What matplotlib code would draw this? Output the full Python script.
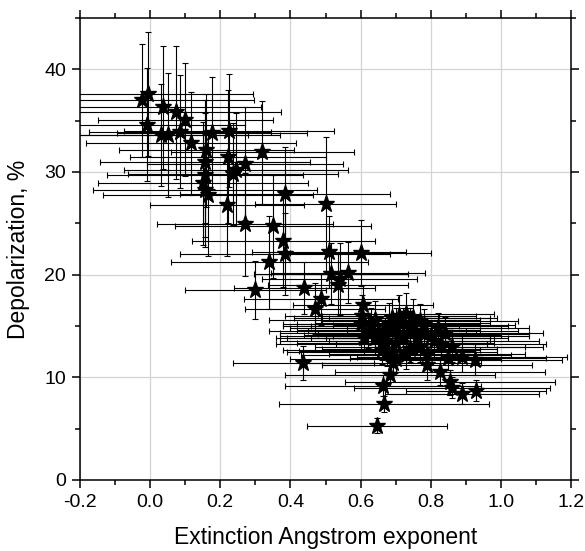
import matplotlib
matplotlib.use("Agg")
import matplotlib.pyplot as plt
from matplotlib.ticker import MultipleLocator

plt.rcParams['font.family'] = ['Liberation Sans', 'DejaVu Sans']

# Extinction Angstrom exponent
x = [-0.023, -0.006, -0.01, 0.037, 0.074, 0.10, 0.03, 0.05, 0.085, 0.117,
     0.176, 0.225, 0.16, 0.157, 0.222, 0.245, 0.236, 0.27, 0.32, 0.157,
     0.15, 0.157, 0.165, 0.22, 0.385, 0.27, 0.35, 0.50, 0.38, 0.385,
     0.34, 0.51, 0.60, 0.30, 0.44, 0.487, 0.47, 0.515, 0.54, 0.565,
     0.535, 0.607, 0.605, 0.437,
     0.647, 0.667, 0.664, 0.684, 0.693, 0.675, 0.79, 0.826, 0.855, 0.86,
     0.89, 0.93, 0.925, 0.89, 0.85,
     0.63, 0.65, 0.67, 0.68, 0.70, 0.72, 0.74, 0.75, 0.76, 0.78,
     0.80, 0.81, 0.83, 0.70, 0.72, 0.69, 0.74, 0.77, 0.79, 0.66,
     0.64, 0.62, 0.71, 0.73, 0.69, 0.75, 0.60, 0.61, 0.86, 0.84,
     0.73, 0.66, 0.70, 0.68, 0.77, 0.82, 0.64, 0.72, 0.78, 0.67]
# Depolarization, %
y = [37.0, 37.6, 34.6, 36.3, 35.8, 35.1, 33.6, 33.6, 33.9, 32.8,
     33.8, 34.0, 32.1, 31.0, 31.5, 30.2, 29.8, 30.8, 31.9, 29.7,
     28.9, 28.2, 27.8, 26.8, 27.9, 24.9, 24.7, 26.9, 23.3, 22.0,
     21.2, 22.2, 22.1, 18.5, 18.7, 17.6, 16.7, 20.1, 19.6, 20.2,
     19.0, 17.0, 16.0, 11.4,
     5.3, 7.4, 9.2, 10.2, 11.4, 12.6, 11.2, 10.5, 9.5, 9.0,
     8.4, 8.7, 11.7, 12.0, 11.9,
     15.0, 14.3, 14.0, 15.2, 14.8, 15.3, 15.0, 14.5, 13.8, 14.2,
     14.0, 13.5, 13.2, 13.3, 13.8, 12.5, 12.8, 13.0, 12.3, 13.2,
     13.8, 14.5, 16.0, 16.2, 15.8, 15.8, 15.2, 13.8, 13.0, 14.3,
     12.2, 12.7, 11.8, 14.6, 15.5, 14.8, 15.6, 14.1, 15.1, 13.5]
xerr = [0.32, 0.30, 0.28, 0.28, 0.30, 0.25, 0.25, 0.32, 0.26, 0.30,
        0.27, 0.30, 0.25, 0.30, 0.28, 0.32, 0.30, 0.28, 0.26, 0.28,
        0.30, 0.32, 0.30, 0.22, 0.30, 0.25, 0.28, 0.20, 0.26, 0.30,
        0.28, 0.22, 0.20, 0.20, 0.20, 0.22, 0.20, 0.22, 0.22, 0.22,
        0.20, 0.20, 0.22, 0.20,
        0.20, 0.30, 0.28, 0.30, 0.25, 0.25, 0.30, 0.30, 0.30, 0.28,
        0.22, 0.20, 0.25, 0.30, 0.28,
        0.25, 0.28, 0.30, 0.26, 0.30, 0.25, 0.28, 0.30, 0.26, 0.30,
        0.28, 0.30, 0.30, 0.28, 0.26, 0.30, 0.25, 0.30, 0.28, 0.30,
        0.25, 0.28, 0.22, 0.25, 0.28, 0.24, 0.22, 0.25, 0.26, 0.28,
        0.30, 0.28, 0.30, 0.26, 0.28, 0.26, 0.30, 0.28, 0.26, 0.30]
yerr = [5.5, 6.0, 5.5, 6.0, 6.5, 5.5, 5.0, 6.0, 5.5, 5.0,
        5.5, 5.5, 5.5, 6.0, 6.5, 5.5, 5.0, 5.5, 5.0, 6.0,
        6.0, 5.5, 6.0, 5.0, 4.5, 5.0, 5.0, 6.5, 4.5, 4.0,
        4.5, 3.5, 3.2, 2.8, 2.5, 2.5, 2.5, 3.0, 3.5, 3.0,
        3.0, 2.0, 2.0, 1.7,
        0.7, 0.8, 1.0, 1.0, 1.2, 1.5, 1.5, 1.2, 1.2, 1.0,
        1.0, 1.0, 1.5, 1.5, 1.2,
        1.8, 1.5, 1.8, 2.0, 2.0, 1.5, 1.8, 1.5, 1.5, 1.8,
        1.5, 1.5, 1.3, 1.6, 1.5, 1.5, 1.3, 1.5, 1.4, 1.5,
        1.6, 1.6, 2.0, 2.0, 1.8, 1.8, 1.8, 1.6, 1.5, 1.6,
        1.4, 1.4, 1.3, 1.6, 1.6, 1.5, 1.8, 1.5, 1.6, 1.5]

x_ticks = [-0.2, 0.0, 0.2, 0.4, 0.6, 0.8, 1.0, 1.2]
y_ticks = [0, 10, 20, 30, 40]

fig = plt.figure(figsize=(5.85, 5.51), dpi=100)
ax = fig.add_axes([80/585, 71/551, 491/585, 462/551])

ax.errorbar(x, y, xerr=xerr, yerr=yerr, fmt='none', ecolor='black',
            elinewidth=0.8, capsize=2.5, capthick=0.8, zorder=2)
ax.plot(x, y, linestyle='none', marker='*', markersize=12.5, color='black',
        markeredgecolor='black', zorder=3)

ax.set_xlim(-0.2, 1.2)
ax.set_ylim(0, 45)
ax.set_xticks(x_ticks)
ax.set_xticklabels([f"{v:.1f}" for v in x_ticks])
ax.set_yticks(y_ticks)
ax.xaxis.set_minor_locator(MultipleLocator(0.1))
ax.yaxis.set_minor_locator(MultipleLocator(5))
ax.grid(True, which='major', color='#d4d4d4', linewidth=0.9, zorder=0)
ax.set_axisbelow(True)

ax.tick_params(which='both', direction='out', top=True, right=True,
               labeltop=False, labelright=False, width=1.1, labelsize=14)
ax.tick_params(which='major', length=6, pad=4)
ax.tick_params(which='minor', length=3.5)
for s in ax.spines.values():
    s.set_linewidth(1.1)

ax.set_xlabel('Extinction Angstrom exponent', fontsize=16.5, labelpad=11)
ax.set_ylabel('Depolarization, %', fontsize=16.5, labelpad=10)

fig.savefig('out.png', dpi=100)
